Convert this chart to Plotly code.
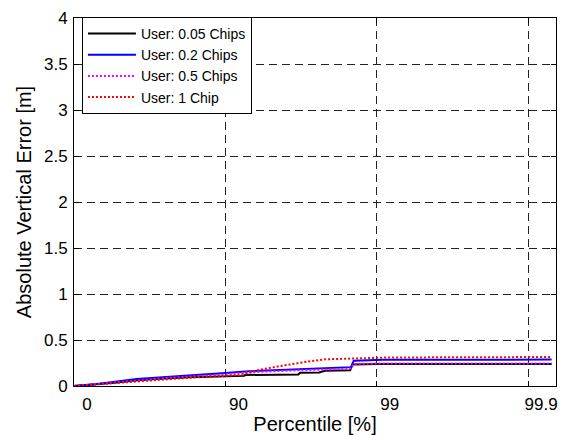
import numpy as np
import plotly.graph_objects as go

# Percentile samples [%] and absolute vertical error [m] for each user setting
pct_005 = [0, 27.2, 46.3, 60.3, 72.8, 82.7, 90.0, 92.5, 92.6, 96.7, 96.8, 97.6, 97.8, 98.5, 98.56, 99.03, 99.93]
err_005 = [0, 0.015, 0.035, 0.06, 0.08, 0.095, 0.105, 0.11, 0.12, 0.125, 0.145, 0.147, 0.165, 0.17, 0.235, 0.24, 0.24]

pct_02 = [0, 27.2, 46.3, 61.5, 76.7, 85.8, 90.0, 93.0, 94.9, 96.7, 97.9, 98.52, 98.58, 99.1, 99.93]
err_02 = [0, 0.018, 0.045, 0.075, 0.10, 0.12, 0.14, 0.16, 0.17, 0.185, 0.2, 0.205, 0.275, 0.285, 0.287]

pct_05 = [0, 27.2, 46.3, 61.5, 76.7, 85.8, 90.0, 93.0, 95.6, 96.7, 97.9, 98.52, 98.58, 99.1, 99.93]
err_05 = [0, 0.02, 0.04, 0.065, 0.09, 0.11, 0.125, 0.15, 0.165, 0.17, 0.18, 0.19, 0.24, 0.245, 0.245]

pct_1 = [0, 32.5, 61.5, 76.7, 85.8, 90.0, 91.9, 93.2, 94.0, 95.4, 96.4, 97.0, 97.8, 98.58, 99.17, 99.93]
err_1 = [0, 0.02, 0.05, 0.08, 0.1, 0.11, 0.12, 0.15, 0.175, 0.21, 0.24, 0.26, 0.29, 0.3, 0.31, 0.315]

tick_pct = [0, 90, 99, 99.9]
tick_labels = ["0", "90", "99", "99.9"]


def prob_scale(p):
    """Map a percentile to the -log10(1 - p) axis so 90/99/99.9 are evenly spaced."""
    p = np.asarray(p, dtype=float)
    return -np.log10(1.0 - p / 100.0)


series = [
    ("User: 0.05 Chips", pct_005, err_005, "black", "solid"),
    ("User: 0.2 Chips", pct_02, err_02, "blue", "solid"),
    ("User: 0.5 Chips", pct_05, err_05, "magenta", "2px,2px"),
    ("User: 1 Chip", pct_1, err_1, "red", "2px,2px"),
]

FONT = "Liberation Sans, Arial, sans-serif"

fig = go.Figure()
for name, p, e, color, dash in series:
    fig.add_trace(go.Scatter(
        x=prob_scale(p), y=e, mode="lines", name=name,
        line=dict(color=color, width=2, dash=dash),
        customdata=p,
        hovertemplate="%{customdata}%%: %{y} m<extra>" + name + "</extra>",
    ))

axis_common = dict(
    showline=True, linecolor="black", linewidth=1, mirror="ticks",
    ticks="inside", ticklen=5, tickcolor="black",
    showgrid=True, gridcolor="#222222", gridwidth=1, griddash="8px,5px",
    zeroline=False, tickfont=dict(family=FONT, size=17, color="black"),
)

fig.update_xaxes(
    **axis_common,
    range=[0, 3.184],
    tickvals=prob_scale(tick_pct), ticktext=tick_labels,
    ticklabelshift=13, ticklabelstandoff=3,
    title=dict(text="Percentile [%]", font=dict(family=FONT, size=20, color="black"), standoff=3),
)
fig.update_yaxes(
    **axis_common,
    range=[0, 4], dtick=0.5, tickformat="~g",
    ticklabelstandoff=2,
    title=dict(text="Absolute Vertical Error [m]", font=dict(family=FONT, size=20, color="black"), standoff=6),
)

fig.update_layout(
    width=567, height=440,
    margin=dict(l=74, r=9, t=9, b=51),
    plot_bgcolor="white", paper_bgcolor="white",
    font=dict(family=FONT, color="black"),
    legend=dict(
        x=0.0165, y=1.003, xanchor="left", yanchor="top",
        bgcolor="white", bordercolor="black", borderwidth=1,
        font=dict(family=FONT, size=14, color="black"),
        itemwidth=48, tracegroupgap=0,
    ),
    showlegend=True,
)

fig.write_html("out.html")
